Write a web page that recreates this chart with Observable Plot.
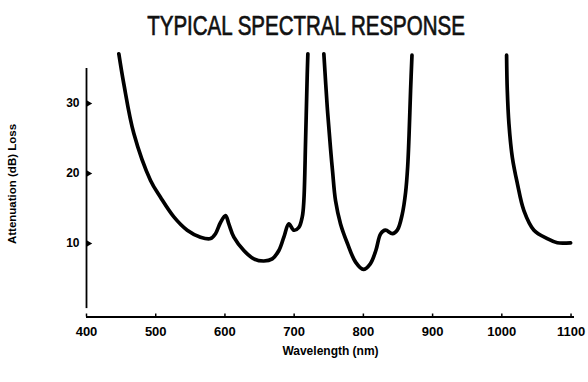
<!DOCTYPE html>
<html><head><meta charset="utf-8">
<script src="https://cdn.jsdelivr.net/npm/d3@7"></script>
<script src="https://cdn.jsdelivr.net/npm/@observablehq/plot@0.6"></script>
<style>
body{margin:0;background:#fff;width:588px;height:382px;overflow:hidden;position:relative;}
#title{height:45px;box-sizing:border-box;padding-top:13px;text-align:center;font-family:"Liberation Sans",sans-serif;font-size:27px;line-height:27px;color:#111;white-space:nowrap;}
#title span{display:inline-block;transform:scaleX(0.76);transform-origin:center;margin-left:24px;-webkit-text-stroke:0.7px #111;}
#chart svg{display:block;}
</style></head><body>
<div id="title"><span>TYPICAL SPECTRAL RESPONSE</span></div>
<div id="chart"></div>
<script>
// Wavelength (nm) and attenuation (dB), three branches
const wavelength1 = [446.7, 453.9, 468.4, 492.5, 506.9, 526.2, 545.5, 564.7, 579.2, 586.4, 593.6, 600.9, 605.6, 612.9, 627.3, 641.8, 656.2, 668.3, 677.9, 685.1, 692.3, 699.6, 706.8, 711.7, 714, 716.5, 718.9, 719.8];
const loss1 = [37.1, 32.8, 25.7, 19.0, 16.6, 13.8, 11.9, 10.9, 10.7, 11.4, 13.0, 14.0, 12.8, 10.9, 9.0, 7.8, 7.5, 7.8, 9.0, 10.9, 12.8, 11.9, 12.3, 13.8, 16.1, 24.7, 34.2, 37.1];
const wavelength2 = [742.9, 747.8, 752.6, 755.5, 759.8, 767, 777, 789, 800, 810, 818, 825, 832, 842, 849, 856.2, 861, 864, 866, 868.2, 870.2];
const loss2 = [37.1, 29.5, 23.5, 20.3, 16.1, 12.8, 10.0, 7.3, 6.3, 7.1, 9.0, 11.4, 11.9, 11.4, 11.9, 14.2, 17.3, 21.0, 25.5, 31.9, 36.9];
const wavelength3 = [1006.9, 1007.9, 1010.3, 1015.2, 1022.4, 1031.9, 1046.4, 1065.7, 1080.2, 1099.4];
const loss3 = [36.9, 31.9, 27.1, 22.3, 18.6, 14.7, 11.9, 10.7, 10.1, 10.1];

const xTicks = [400, 500, 600, 700, 800, 900, 1000, 1100];
const yTicks = [10, 20, 30];
const xLabel = "Wavelength (nm)";
const yLabel = "Attenuation (dB) Loss";

const xDomain = [400, 1105];
const yDomain = [-0.5, 37.5];
const yAxisExtent = [0.7, 35];

const rows = [];
[[wavelength1, loss1], [wavelength2, loss2], [wavelength3, loss3]].forEach(([w, l], i) => {
  w.forEach((x, j) => rows.push({series: i, wavelength: x, loss: l[j]}));
});

const plot = Plot.plot({
  width: 588, height: 337,
  marginLeft: 86, marginRight: 14, marginTop: 5.5, marginBottom: 65.5,
  x: {domain: xDomain},
  y: {domain: yDomain},
  style: {fontFamily: "'Liberation Sans', Arial, sans-serif", fontWeight: "bold", color: "#000", background: "#fff"},
  marks: [
    Plot.ruleY([yDomain[0]], {stroke: "#000", strokeWidth: 1.8}),
    Plot.ruleX([xDomain[0]], {y1: yAxisExtent[0], y2: yAxisExtent[1], stroke: "#000", strokeWidth: 1.8}),
    Plot.axisX({ticks: xTicks, tickFormat: d => String(d), tickSize: -3, tickPadding: 13, fontSize: 13, label: null, strokeWidth: 1.5}),
    Plot.axisY({ticks: yTicks, tickSize: 0, tickPadding: 7, fontSize: 12, label: null}),
    Plot.dot(yTicks, {y: d => d, frameAnchor: "left", symbol: "triangle", rotate: 90, r: 2.4, fill: "#000", stroke: "none", dx: 2}),
    Plot.text([xLabel], {frameAnchor: "bottom", textAnchor: "middle", dy: 38, fontSize: 12, fill: "#000"}),
    Plot.text([yLabel], {frameAnchor: "left", textAnchor: "middle", rotate: -90, dx: -74, fontSize: 11.5, fill: "#000"}),
    Plot.line(rows, {x: "wavelength", y: "loss", z: "series", stroke: "#000", strokeWidth: 3.7, curve: "catmull-rom", strokeLinejoin: "round", strokeLinecap: "round"})
  ]
});
document.getElementById("chart").appendChild(plot);
</script>
</body></html>
